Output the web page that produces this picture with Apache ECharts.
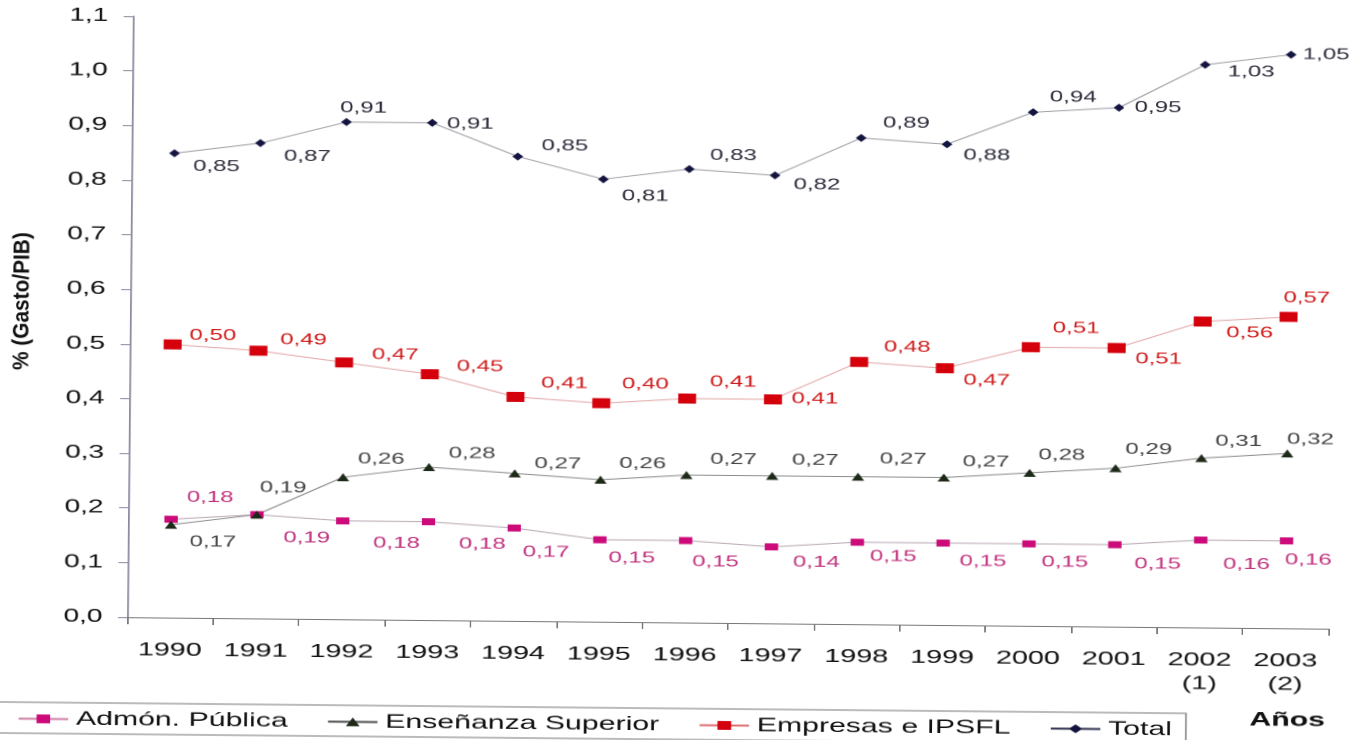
<!DOCTYPE html>
<html>
<head>
<meta charset="utf-8">
<script src="https://cdn.jsdelivr.net/npm/echarts@6/dist/echarts.min.js"></script>
<style>
html,body{margin:0;padding:0;background:#fff;overflow:hidden;width:1352px;height:740px;}
#wrap{position:absolute;left:0;top:0;width:1352px;height:740px;overflow:hidden;background:#fff;}
#chart{position:absolute;left:0;top:0;width:872.26px;height:740px;transform-origin:0 0;
  transform:translate(6px,-1px) rotate(0.55deg) scaleX(1.55);}
</style>
</head>
<body>
<div id="wrap"><div id="chart"></div></div>
<script>
// ---- data ----
const years = ['1990','1991','1992','1993','1994','1995','1996','1997','1998','1999','2000','2001','2002\n(1)','2003\n(2)'];
const admonPublica      = [0.18,0.19,0.18,0.18,0.17,0.15,0.15,0.14,0.15,0.15,0.15,0.15,0.16,0.16];
const ensenanzaSuperior = [0.17,0.19,0.26,0.28,0.27,0.26,0.27,0.27,0.27,0.27,0.28,0.29,0.31,0.32];
const empresasIPSFL     = [0.50,0.49,0.47,0.45,0.41,0.40,0.41,0.41,0.48,0.47,0.51,0.51,0.56,0.57];
const totalGasto        = [0.85,0.87,0.91,0.91,0.85,0.81,0.83,0.82,0.89,0.88,0.94,0.95,1.03,1.05];
const seriesNames = ['Admón. Pública','Enseñanza Superior','Empresas e IPSFL','Total'];
const yAxisTitle = '% (Gasto/PIB)';
const xAxisTitle = 'Años';

// ---- style: label offsets (screen px, relative to each point) ----
const offAdmon = [[39,-22],[50,23],[54,22],[54,22],[32,24],[32,18],[30,21],[45,15],[36,14],[40,18],[36,18],[43,19],[46,24],[22,19]];
const offEns   = [[42,17],[26,-27],[38,-18],[43,-14],[43,-10],[42,-16],[47,-16],[43,-16],[45,-18],[42,-16],[32,-18],[33,-19],[37,-17],[23,-14]];
const offEmp   = [[40,-9],[45,-11],[51,-8],[50,-8],[49,-14],[44,-19],[46,-17],[42,-1],[48,-15],[42,12],[45,-19],[42,11],[47,11],[18,-19]];
const offTot   = [[42,13],[47,13],[17,-14],[38,1],[47,-11],[42,17],[44,-14],[42,9],[45,-15],[40,11],[40,-15],[39,0],[46,7],[35,0]];

const SX = 1.55;
const FONT = '"Liberation Sans", Arial, Helvetica, sans-serif';
const fmt = v => v.toFixed(2).replace('.', ',');

function mkSeries(name, values, offsets, markColor, labelColor, lineColor, symbol, symbolSize) {
  return {
    name: name,
    type: 'line',
    data: values.map((v, i) => ({ value: v, label: { offset: [offsets[i][0] / SX, offsets[i][1]] } })),
    symbol: symbol,
    symbolSize: symbolSize,
    itemStyle: { color: markColor },
    lineStyle: { color: lineColor, width: 1 },
    label: {
      show: true, position: 'inside', align: 'center', verticalAlign: 'middle',
      color: labelColor, fontSize: 15.5, fontFamily: FONT,
      formatter: p => fmt(p.value)
    },
    emphasis: { disabled: true },
    animation: false
  };
}

const chart = echarts.init(document.getElementById('chart'), null, { devicePixelRatio: 2 });
chart.setOption({
  backgroundColor: '#fff',
  animation: false,
  grid: { left: 82, right: 14.9, top: 16, bottom: 123, containLabel: false, outerBoundsMode: 'none' },
  xAxis: {
    type: 'category',
    data: years,
    boundaryGap: true,
    axisLine: { lineStyle: { color: '#777', width: 1 } },
    axisTick: { show: true, length: 7, alignWithLabel: false, lineStyle: { color: '#777' } },
    axisLabel: { margin: 21, fontSize: 18.5, lineHeight: 23.5, color: '#111', fontFamily: FONT, interval: 0 },
    splitLine: { show: false }
  },
  yAxis: {
    type: 'value',
    min: 0, max: 1.1, interval: 0.1,
    axisLine: { show: true, lineStyle: { color: '#8a8aa0', width: 1 } },
    axisTick: { show: true, length: 6, inside: false, lineStyle: { color: '#8a8aa0' } },
    axisLabel: { margin: 16, fontSize: 18, color: '#111', fontFamily: FONT,
      formatter: v => v.toFixed(1).replace('.', ',') },
    splitLine: { show: false }
  },
  legend: {
    left: -4.4, top: 703, orient: 'horizontal',
    padding: [6, 9, 4, 16], itemGap: 25, itemWidth: 32, itemHeight: 11,
    borderColor: '#777', borderWidth: 1, backgroundColor: '#fff',
    textStyle: { fontFamily: FONT, fontSize: 19.5, color: '#111', lineHeight: 21 },
    selectedMode: false,
    data: [
      { name: seriesNames[0], lineStyle: { color: '#d080a8' } },
      { name: seriesNames[1], lineStyle: { color: '#505050' } },
      { name: seriesNames[2], lineStyle: { color: '#e07070' } },
      { name: seriesNames[3], lineStyle: { color: '#303050' } }
    ]
  },
  graphic: [
    { type: 'text', x: 12.3, y: 302, rotation: Math.PI / 2, scaleX: 1.39,
      style: { text: yAxisTitle, font: 'bold 15px ' + FONT, fill: '#111', align: 'center', verticalAlign: 'middle' } },
    { type: 'text', x: 831, y: 709,
      style: { text: xAxisTitle, font: 'bold 19.5px ' + FONT, fill: '#111', align: 'center', verticalAlign: 'middle' } }
  ],
  series: [
    mkSeries(seriesNames[0], admonPublica, offAdmon, '#cc0a7a', '#c2327e', '#b8a8b4', 'rect', [8.6, 7]),
    mkSeries(seriesNames[1], ensenanzaSuperior, offEns, '#1e2a18', '#444444', '#8c8c8c', 'triangle', [8, 8]),
    mkSeries(seriesNames[2], empresasIPSFL, offEmp, '#d4000c', '#d01a1a', '#e4a8a8', 'rect', [11.6, 10]),
    mkSeries(seriesNames[3], totalGasto, offTot, '#141440', '#2b2b3b', '#a0a0a8', 'diamond', [7, 8])
  ]
});
</script>
</body>
</html>
